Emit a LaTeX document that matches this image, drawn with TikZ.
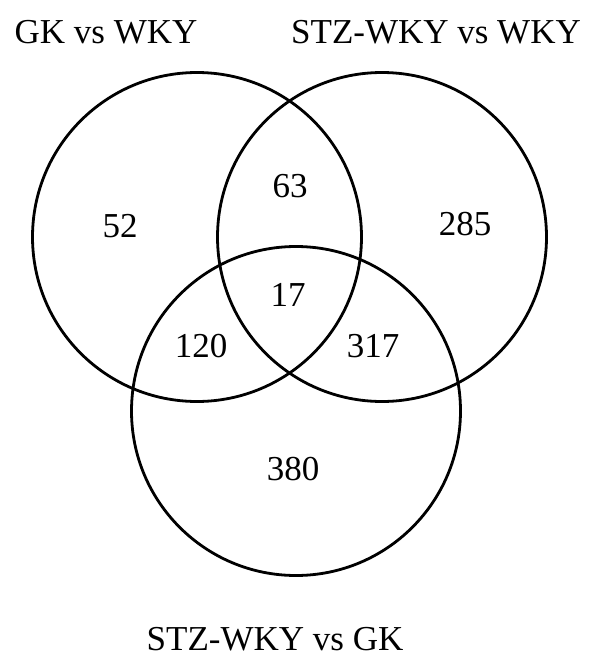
\documentclass[tikz,border=0pt]{standalone}
\usepackage{fontspec}
\setmainfont{Liberation Serif}
\begin{document}
\begin{tikzpicture}[x=1pt,y=-1pt,
  setc/.style={circle,draw=black,line width=2.8pt,minimum size=329pt,inner sep=0pt},
  lbl/.style={anchor=base,inner sep=0pt,font=\fontsize{35}{42}\selectfont},
  num/.style={anchor=base,inner sep=0pt,font=\fontsize{35}{42}\selectfont}]
\useasboundingbox[fill=white] (0,0) rectangle (600,658);
\node[setc] (A) at (197,237) {};
\node[setc] (B) at (382,237) {};
\node[setc] (C) at (296,411) {};
\node[lbl] (la) at (106,44) {GK vs WKY};
\node[lbl] (lb) at (436,44) {STZ-WKY vs WKY};
\node[lbl] (lc) at (275,650) {STZ-WKY vs GK};
\node[num] (n52) at (120,237) {52};
\node[num] (n63) at (290,197) {63};
\node[num] (n285) at (465,235) {285};
\node[num] (n17) at (288,306) {17};
\node[num] (n120) at (201,357) {120};
\node[num] (n317) at (373,357) {317};
\node[num] (n380) at (293,480) {380};
\end{tikzpicture}
\end{document}
